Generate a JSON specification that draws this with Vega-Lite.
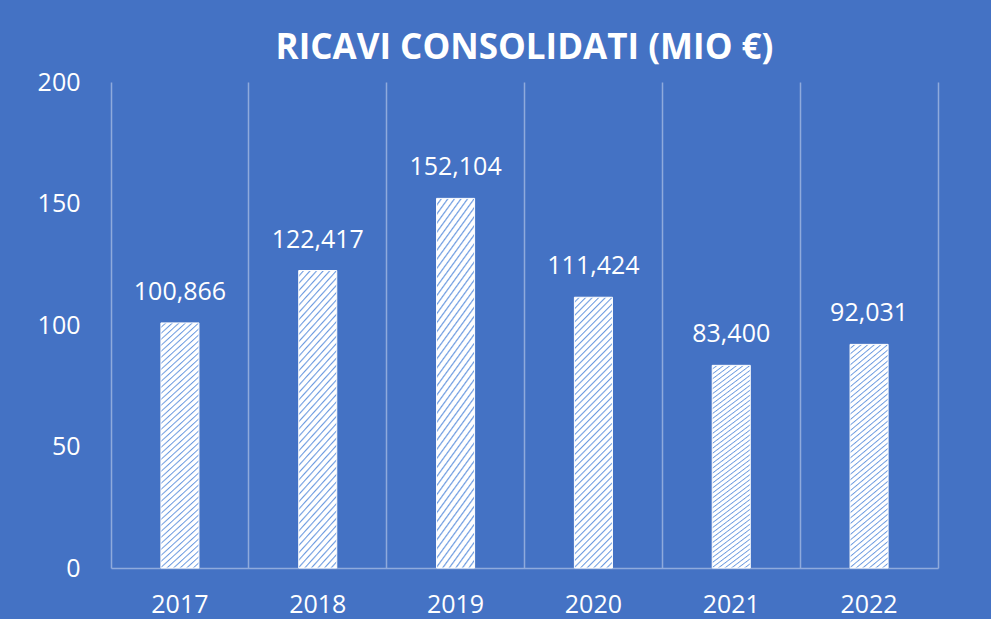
{
  "$schema": "https://vega.github.io/schema/vega-lite/v6.json",
  "width": 827,
  "height": 486,
  "autosize": "none",
  "padding": {"left": 111, "top": 82, "right": 53, "bottom": 51},
  "background": "#4472c4",
  "title": {
    "text": "RICAVI CONSOLIDATI (MIO €)",
    "fontSize": 35,
    "font": "Open Sans",
    "fontWeight": "bold",
    "color": "#ffffff",
    "anchor": "middle",
    "frame": "group",
    "baseline": "alphabetic",
    "offset": 19,
    "dy": 43
  },
  "data": {
    "values": [
      {"anno": "2017", "ricavi": 100.866},
      {"anno": "2018", "ricavi": 122.417},
      {"anno": "2019", "ricavi": 152.104},
      {"anno": "2020", "ricavi": 111.424},
      {"anno": "2021", "ricavi": 83.4},
      {"anno": "2022", "ricavi": 92.031}
    ]
  },
  "encoding": {
    "x": {
      "field": "anno",
      "type": "nominal",
      "sort": null,
      "scale": {"paddingInner": 0, "paddingOuter": 0},
      "axis": {
        "title": null,
        "labelAngle": 0,
        "labelFont": "Open Sans",
        "labelFontSize": 25,
        "labelColor": "#ffffff",
        "labelPadding": 24,
        "labelBaseline": "top",
        "ticks": false,
        "domain": true,
        "domainColor": "#8faadc",
        "domainWidth": 1.5,
        "grid": true,
        "gridColor": "#8faadc",
        "gridWidth": 1.5,
        "bandPosition": 0
      }
    }
  },
  "layer": [
    {
      "mark": {
        "type": "bar",
        "width": {"band": 0.276},
        "fill": {
          "gradient": "linear",
          "x1": 0, "y1": 0, "x2": 0.17, "y2": 1.2,
          "stops": [
            {"offset": 0, "color": "#ffffff"}, {"offset": 0.011, "color": "#ffffff"}, {"offset": 0.015, "color": "#6d9be0"},
            {"offset": 0.02, "color": "#ffffff"}, {"offset": 0.031, "color": "#ffffff"}, {"offset": 0.035, "color": "#6d9be0"},
            {"offset": 0.04, "color": "#ffffff"}, {"offset": 0.051, "color": "#ffffff"}, {"offset": 0.055, "color": "#6d9be0"},
            {"offset": 0.06, "color": "#ffffff"}, {"offset": 0.071, "color": "#ffffff"}, {"offset": 0.075, "color": "#6d9be0"},
            {"offset": 0.08, "color": "#ffffff"}, {"offset": 0.091, "color": "#ffffff"}, {"offset": 0.095, "color": "#6d9be0"},
            {"offset": 0.10, "color": "#ffffff"}, {"offset": 0.111, "color": "#ffffff"}, {"offset": 0.115, "color": "#6d9be0"},
            {"offset": 0.12, "color": "#ffffff"}, {"offset": 0.131, "color": "#ffffff"}, {"offset": 0.135, "color": "#6d9be0"},
            {"offset": 0.14, "color": "#ffffff"}, {"offset": 0.151, "color": "#ffffff"}, {"offset": 0.155, "color": "#6d9be0"},
            {"offset": 0.16, "color": "#ffffff"}, {"offset": 0.171, "color": "#ffffff"}, {"offset": 0.175, "color": "#6d9be0"},
            {"offset": 0.18, "color": "#ffffff"}, {"offset": 0.191, "color": "#ffffff"}, {"offset": 0.195, "color": "#6d9be0"},
            {"offset": 0.20, "color": "#ffffff"}, {"offset": 0.211, "color": "#ffffff"}, {"offset": 0.215, "color": "#6d9be0"},
            {"offset": 0.22, "color": "#ffffff"}, {"offset": 0.231, "color": "#ffffff"}, {"offset": 0.235, "color": "#6d9be0"},
            {"offset": 0.24, "color": "#ffffff"}, {"offset": 0.251, "color": "#ffffff"}, {"offset": 0.255, "color": "#6d9be0"},
            {"offset": 0.26, "color": "#ffffff"}, {"offset": 0.271, "color": "#ffffff"}, {"offset": 0.275, "color": "#6d9be0"},
            {"offset": 0.28, "color": "#ffffff"}, {"offset": 0.291, "color": "#ffffff"}, {"offset": 0.295, "color": "#6d9be0"},
            {"offset": 0.30, "color": "#ffffff"}, {"offset": 0.311, "color": "#ffffff"}, {"offset": 0.315, "color": "#6d9be0"},
            {"offset": 0.32, "color": "#ffffff"}, {"offset": 0.331, "color": "#ffffff"}, {"offset": 0.335, "color": "#6d9be0"},
            {"offset": 0.34, "color": "#ffffff"}, {"offset": 0.351, "color": "#ffffff"}, {"offset": 0.355, "color": "#6d9be0"},
            {"offset": 0.36, "color": "#ffffff"}, {"offset": 0.371, "color": "#ffffff"}, {"offset": 0.375, "color": "#6d9be0"},
            {"offset": 0.38, "color": "#ffffff"}, {"offset": 0.391, "color": "#ffffff"}, {"offset": 0.395, "color": "#6d9be0"},
            {"offset": 0.40, "color": "#ffffff"}, {"offset": 0.411, "color": "#ffffff"}, {"offset": 0.415, "color": "#6d9be0"},
            {"offset": 0.42, "color": "#ffffff"}, {"offset": 0.431, "color": "#ffffff"}, {"offset": 0.435, "color": "#6d9be0"},
            {"offset": 0.44, "color": "#ffffff"}, {"offset": 0.451, "color": "#ffffff"}, {"offset": 0.455, "color": "#6d9be0"},
            {"offset": 0.46, "color": "#ffffff"}, {"offset": 0.471, "color": "#ffffff"}, {"offset": 0.475, "color": "#6d9be0"},
            {"offset": 0.48, "color": "#ffffff"}, {"offset": 0.491, "color": "#ffffff"}, {"offset": 0.495, "color": "#6d9be0"},
            {"offset": 0.50, "color": "#ffffff"}, {"offset": 0.511, "color": "#ffffff"}, {"offset": 0.515, "color": "#6d9be0"},
            {"offset": 0.52, "color": "#ffffff"}, {"offset": 0.531, "color": "#ffffff"}, {"offset": 0.535, "color": "#6d9be0"},
            {"offset": 0.54, "color": "#ffffff"}, {"offset": 0.551, "color": "#ffffff"}, {"offset": 0.555, "color": "#6d9be0"},
            {"offset": 0.56, "color": "#ffffff"}, {"offset": 0.571, "color": "#ffffff"}, {"offset": 0.575, "color": "#6d9be0"},
            {"offset": 0.58, "color": "#ffffff"}, {"offset": 0.591, "color": "#ffffff"}, {"offset": 0.595, "color": "#6d9be0"},
            {"offset": 0.60, "color": "#ffffff"}, {"offset": 0.611, "color": "#ffffff"}, {"offset": 0.615, "color": "#6d9be0"},
            {"offset": 0.62, "color": "#ffffff"}, {"offset": 0.631, "color": "#ffffff"}, {"offset": 0.635, "color": "#6d9be0"},
            {"offset": 0.64, "color": "#ffffff"}, {"offset": 0.651, "color": "#ffffff"}, {"offset": 0.655, "color": "#6d9be0"},
            {"offset": 0.66, "color": "#ffffff"}, {"offset": 0.671, "color": "#ffffff"}, {"offset": 0.675, "color": "#6d9be0"},
            {"offset": 0.68, "color": "#ffffff"}, {"offset": 0.691, "color": "#ffffff"}, {"offset": 0.695, "color": "#6d9be0"},
            {"offset": 0.70, "color": "#ffffff"}, {"offset": 0.711, "color": "#ffffff"}, {"offset": 0.715, "color": "#6d9be0"},
            {"offset": 0.72, "color": "#ffffff"}, {"offset": 0.731, "color": "#ffffff"}, {"offset": 0.735, "color": "#6d9be0"},
            {"offset": 0.74, "color": "#ffffff"}, {"offset": 0.751, "color": "#ffffff"}, {"offset": 0.755, "color": "#6d9be0"},
            {"offset": 0.76, "color": "#ffffff"}, {"offset": 0.771, "color": "#ffffff"}, {"offset": 0.775, "color": "#6d9be0"},
            {"offset": 0.78, "color": "#ffffff"}, {"offset": 0.791, "color": "#ffffff"}, {"offset": 0.795, "color": "#6d9be0"},
            {"offset": 0.80, "color": "#ffffff"}, {"offset": 0.811, "color": "#ffffff"}, {"offset": 0.815, "color": "#6d9be0"},
            {"offset": 0.82, "color": "#ffffff"}, {"offset": 0.831, "color": "#ffffff"}, {"offset": 0.835, "color": "#6d9be0"},
            {"offset": 0.84, "color": "#ffffff"}, {"offset": 0.851, "color": "#ffffff"}, {"offset": 0.855, "color": "#6d9be0"},
            {"offset": 0.86, "color": "#ffffff"}, {"offset": 0.871, "color": "#ffffff"}, {"offset": 0.875, "color": "#6d9be0"},
            {"offset": 0.88, "color": "#ffffff"}, {"offset": 0.891, "color": "#ffffff"}, {"offset": 0.895, "color": "#6d9be0"},
            {"offset": 0.90, "color": "#ffffff"}, {"offset": 0.911, "color": "#ffffff"}, {"offset": 0.915, "color": "#6d9be0"},
            {"offset": 0.92, "color": "#ffffff"}, {"offset": 0.931, "color": "#ffffff"}, {"offset": 0.935, "color": "#6d9be0"},
            {"offset": 0.94, "color": "#ffffff"}, {"offset": 0.951, "color": "#ffffff"}, {"offset": 0.955, "color": "#6d9be0"},
            {"offset": 0.96, "color": "#ffffff"}, {"offset": 0.971, "color": "#ffffff"}, {"offset": 0.975, "color": "#6d9be0"},
            {"offset": 0.98, "color": "#ffffff"}, {"offset": 0.991, "color": "#ffffff"}, {"offset": 0.995, "color": "#6d9be0"},
            {"offset": 1, "color": "#ffffff"}
          ]
        },
        "stroke": "#ffffff",
        "strokeWidth": 1
      },
      "encoding": {
        "y": {
          "field": "ricavi",
          "type": "quantitative",
          "scale": {"domain": [0, 200], "nice": false},
          "axis": {
            "title": null,
            "values": [0, 50, 100, 150, 200],
            "format": "d",
            "labelFont": "Open Sans",
            "labelFontSize": 25,
            "labelColor": "#ffffff",
            "labelPadding": 31,
            "ticks": false,
            "domain": false,
            "grid": false
          }
        }
      }
    },
    {
      "mark": {
        "type": "text",
        "dy": -23,
        "baseline": "alphabetic",
        "font": "Open Sans",
        "fontSize": 25,
        "color": "#ffffff"
      },
      "encoding": {
        "text": {"field": "ricavi", "type": "quantitative", "format": ".3f"},
        "y": {
          "field": "ricavi",
          "type": "quantitative",
          "scale": {"domain": [0, 200], "nice": false},
          "axis": {
            "orient": "right",
            "title": null,
            "labels": false,
            "ticks": false,
            "grid": false,
            "domain": true,
            "domainColor": "#8faadc",
            "domainWidth": 1.5
          }
        }
      }
    }
  ],
  "resolve": {"axis": {"y": "independent"}},
  "config": {
    "view": {"stroke": null},
    "font": "Open Sans",
    "locale": {
      "number": {
        "decimal": ",",
        "thousands": ".",
        "grouping": [3],
        "currency": ["", " €"]
      }
    }
  }
}
